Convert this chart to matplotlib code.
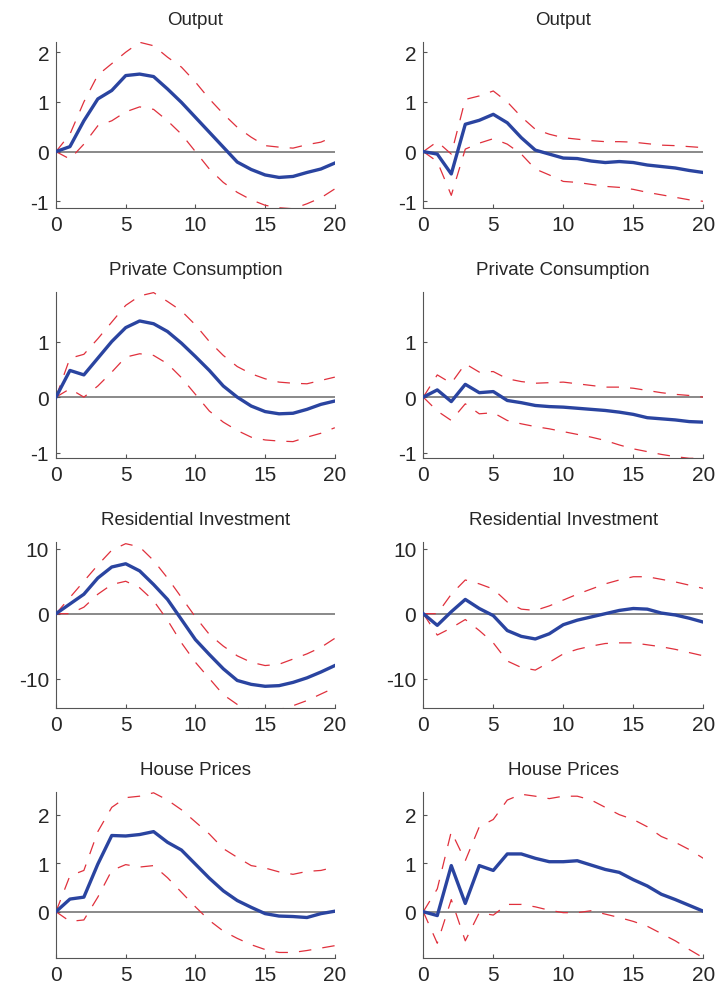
import numpy as np
import matplotlib
matplotlib.use("Agg")
import matplotlib.pyplot as plt

plt.rcParams['font.family'] = ['Liberation Sans', 'DejaVu Sans']
plt.rcParams['lines.scale_dashes'] = False
plt.rcParams['axes.unicode_minus'] = False

horizon = np.arange(21)

titles = ["Output", "Private Consumption", "Residential Investment", "House Prices"]

# Impulse responses: median with lower/upper bands, left and right columns
out_l_med = [0, 0.1, 0.62, 1.06, 1.23, 1.53, 1.56, 1.51, 1.26, 0.99, 0.69, 0.39, 0.09,
             -0.21, -0.36, -0.47, -0.52, -0.50, -0.42, -0.35, -0.23]
out_l_up = [0, 0.35, 1.0, 1.54, 1.77, 2.0, 2.2, 2.13, 1.9, 1.7, 1.40, 1.06, 0.76,
            0.49, 0.29, 0.12, 0.09, 0.07, 0.14, 0.19, 0.31]
out_l_lo = [0, -0.15, 0.15, 0.52, 0.62, 0.8, 0.9, 0.85, 0.62, 0.35, 0.0, -0.35, -0.62,
            -0.82, -0.97, -1.08, -1.13, -1.15, -1.05, -0.93, -0.75]

out_r_med = [0, -0.05, -0.45, 0.55, 0.63, 0.75, 0.58, 0.28, 0.03, -0.05, -0.13, -0.14,
             -0.19, -0.22, -0.20, -0.22, -0.27, -0.30, -0.33, -0.38, -0.42]
out_r_up = [0, 0.2, -0.05, 1.05, 1.12, 1.22, 1.0, 0.7, 0.45, 0.35, 0.28, 0.25, 0.22,
            0.2, 0.2, 0.19, 0.16, 0.13, 0.12, 0.1, 0.08]
out_r_lo = [0, -0.2, -0.88, 0.05, 0.17, 0.26, 0.15, -0.05, -0.35, -0.47, -0.6, -0.62,
            -0.66, -0.7, -0.72, -0.76, -0.82, -0.87, -0.92, -0.97, -1.0]

cons_l_med = [0, 0.48, 0.4, 0.7, 1.0, 1.25, 1.37, 1.32, 1.18, 0.97, 0.73, 0.48, 0.2,
              0.0, -0.16, -0.26, -0.30, -0.29, -0.22, -0.13, -0.07]
cons_l_up = [0, 0.7, 0.77, 1.05, 1.35, 1.65, 1.82, 1.88, 1.72, 1.55, 1.3, 1.0, 0.75,
             0.55, 0.42, 0.33, 0.27, 0.25, 0.24, 0.3, 0.36]
cons_l_lo = [0, 0.15, 0.0, 0.2, 0.45, 0.72, 0.78, 0.75, 0.6, 0.35, 0.05, -0.25, -0.45,
             -0.6, -0.72, -0.77, -0.79, -0.80, -0.72, -0.65, -0.55]

cons_r_med = [0, 0.13, -0.08, 0.23, 0.08, 0.1, -0.06, -0.1, -0.15, -0.17, -0.18, -0.2,
              -0.22, -0.24, -0.27, -0.31, -0.37, -0.39, -0.41, -0.44, -0.45]
cons_r_up = [0, 0.4, 0.25, 0.6, 0.45, 0.46, 0.33, 0.28, 0.25, 0.26, 0.27, 0.24, 0.21,
             0.18, 0.18, 0.16, 0.12, 0.08, 0.05, 0.03, 0.0]
cons_r_lo = [0, -0.25, -0.42, -0.12, -0.3, -0.28, -0.42, -0.48, -0.53, -0.57, -0.62,
             -0.67, -0.72, -0.78, -0.86, -0.93, -0.98, -1.03, -1.07, -1.1, -1.1]

res_l_med = [0, 1.5, 3.0, 5.5, 7.2, 7.7, 6.6, 4.5, 2.2, -0.9, -4.0, -6.3, -8.5, -10.3,
             -10.9, -11.2, -11.1, -10.6, -9.9, -9.0, -8.0]
res_l_up = [0, 2.5, 5.0, 7.5, 9.8, 10.8, 10.3, 8.2, 5.5, 2.5, -0.5, -3.2, -5.0, -6.5,
            -7.5, -8.0, -7.8, -7.0, -6.2, -5.2, -3.8]
res_l_lo = [0, 0, 1.0, 3.0, 4.5, 5.0, 4.0, 2.0, -1.0, -4.5, -7.5, -10.0, -12.5, -14.0,
            -14.8, -15.0, -14.8, -14.2, -13.4, -12.4, -11.4]

res_r_med = [0, -1.8, 0.3, 2.2, 0.8, -0.3, -2.6, -3.5, -3.9, -3.1, -1.7, -1.0, -0.5,
             0.0, 0.5, 0.8, 0.7, 0.1, -0.2, -0.7, -1.3]
res_r_up = [0, 0, 3.0, 5.2, 4.6, 3.8, 1.8, 0.7, 0.5, 1.2, 2.1, 3.0, 3.8, 4.6, 5.2,
            5.7, 5.7, 5.3, 4.9, 4.4, 3.9]
res_r_lo = [0, -3.3, -2.2, -0.9, -2.6, -4.5, -7.3, -8.3, -8.7, -7.5, -6.2, -5.5, -5.0,
            -4.6, -4.5, -4.5, -4.8, -5.1, -5.5, -6.0, -6.5]

hp_l_med = [0, 0.26, 0.3, 0.98, 1.57, 1.56, 1.59, 1.65, 1.43, 1.27, 0.98, 0.69, 0.43,
            0.23, 0.09, -0.04, -0.09, -0.10, -0.12, -0.04, 0.01]
hp_l_up = [0, 0.74, 0.85, 1.65, 2.15, 2.35, 2.38, 2.45, 2.3, 2.1, 1.85, 1.6, 1.3,
           1.12, 0.95, 0.9, 0.82, 0.77, 0.83, 0.85, 0.92]
hp_l_lo = [0, -0.2, -0.17, 0.3, 0.85, 0.97, 0.92, 0.95, 0.7, 0.4, 0.1, -0.18, -0.4,
           -0.55, -0.68, -0.78, -0.84, -0.84, -0.8, -0.75, -0.7]

hp_r_med = [0, -0.08, 0.95, 0.17, 0.95, 0.85, 1.19, 1.19, 1.1, 1.03, 1.03, 1.05, 0.96,
            0.87, 0.81, 0.66, 0.53, 0.36, 0.25, 0.13, 0.01]
hp_r_up = [0, 0.47, 1.65, 1.05, 1.75, 1.9, 2.3, 2.42, 2.38, 2.33, 2.38, 2.38, 2.3,
           2.15, 2.0, 1.9, 1.75, 1.55, 1.43, 1.28, 1.1]
hp_r_lo = [0, -0.65, 0.25, -0.6, -0.02, -0.07, 0.15, 0.15, 0.1, 0.03, -0.02, -0.02,
           0.02, -0.05, -0.12, -0.2, -0.3, -0.45, -0.6, -0.78, -0.95]

y_limits = [(-1.14, 2.2), (-1.1, 1.885), (-14.6, 11.0), (-0.96, 2.46)]
y_ticks = [[-1, 0, 1, 2], [-1, 0, 1], [-10, 0, 10], [0, 1, 2]]
x_ticks = [0, 5, 10, 15, 20]

left_col = [(out_l_med, out_l_lo, out_l_up), (cons_l_med, cons_l_lo, cons_l_up),
            (res_l_med, res_l_lo, res_l_up), (hp_l_med, hp_l_lo, hp_l_up)]
right_col = [(out_r_med, out_r_lo, out_r_up), (cons_r_med, cons_r_lo, cons_r_up),
             (res_r_med, res_r_lo, res_r_up), (hp_r_med, hp_r_lo, hp_r_up)]

BLUE = "#2a44a0"
RED = "#e0303c"
GREY = "#808080"
TXT = "#262626"

fig = plt.figure(figsize=(7.15, 9.95), dpi=100)

col_x = [0.0783, 0.592]
col_w = [0.390, 0.3916]
row_b = [0.7897, 0.5384, 0.2871, 0.0359]
row_h = 0.1668

for r in range(4):
    for c, col in enumerate([left_col, right_col]):
        med, lo, up = col[r]
        ax = fig.add_axes([col_x[c], row_b[r], col_w[c], row_h])
        ax.axhline(0, color=GREY, lw=1.3, zorder=1)
        ax.plot(horizon, up, color=RED, lw=0.9, dashes=(9, 8), zorder=2)
        ax.plot(horizon, lo, color=RED, lw=0.9, dashes=(9, 8), zorder=2)
        ax.plot(horizon, med, color=BLUE, lw=2.4, zorder=3, solid_joinstyle='round')
        ax.set_xlim(0, 20)
        ax.set_ylim(*y_limits[r])
        ax.set_xticks(x_ticks)
        ax.set_yticks(y_ticks[r])
        ax.spines['top'].set_visible(False)
        ax.spines['right'].set_visible(False)
        ax.spines['left'].set_color("#555555")
        ax.spines['bottom'].set_color("#555555")
        ax.spines['left'].set_linewidth(0.8)
        ax.spines['bottom'].set_linewidth(0.8)
        ax.tick_params(direction='in', length=3, width=0.8, color="#555555",
                       labelsize=15, labelcolor=TXT, pad=5)
        ax.set_title(titles[r], fontsize=13.5, color=TXT, pad=13)

fig.savefig("out.png", dpi=100)
